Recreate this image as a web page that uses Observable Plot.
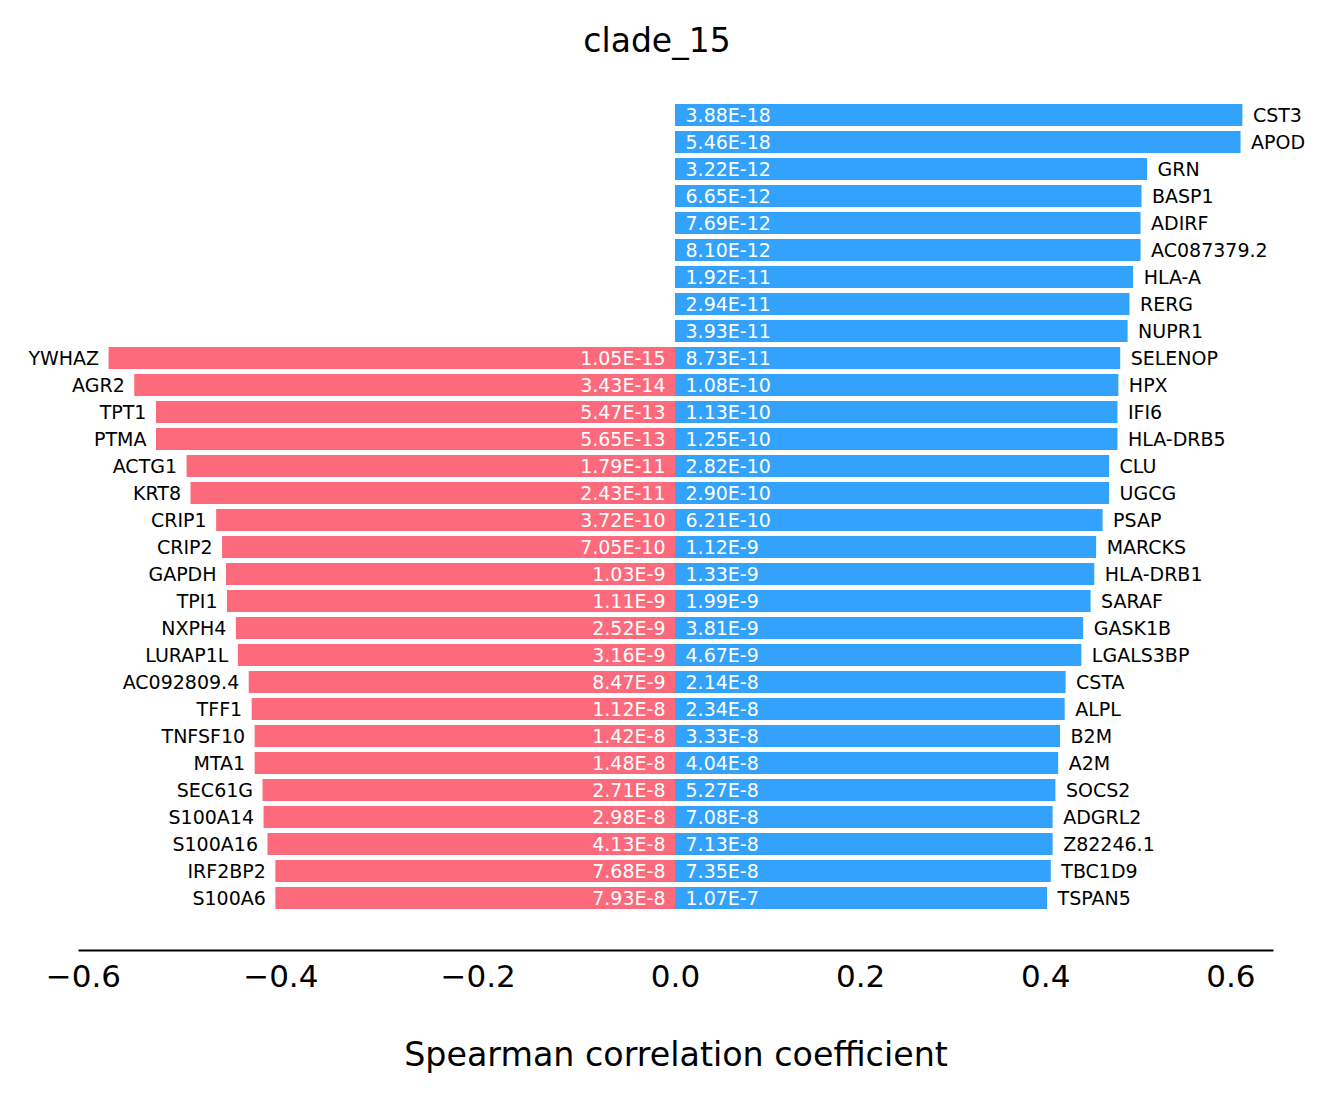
<!DOCTYPE html>
<html>
<head>
<meta charset="utf-8">
<script src="https://cdn.jsdelivr.net/npm/d3@7"></script>
<script src="https://cdn.jsdelivr.net/npm/@observablehq/plot@0.6"></script>
<style>
  html, body { margin: 0; padding: 0; background: #ffffff; }
  #chart svg { display: block; }
</style>
</head>
<body>
<div id="chart"></div>
<script>
// Genes positively correlated with clade_15 (top to bottom)
const posGenes = ["CST3", "APOD", "GRN", "BASP1", "ADIRF", "AC087379.2", "HLA-A", "RERG", "NUPR1",
  "SELENOP", "HPX", "IFI6", "HLA-DRB5", "CLU", "UGCG", "PSAP", "MARCKS", "HLA-DRB1", "SARAF",
  "GASK1B", "LGALS3BP", "CSTA", "ALPL", "B2M", "A2M", "SOCS2", "ADGRL2", "Z82246.1", "TBC1D9", "TSPAN5"];
const posRho = [0.613, 0.611, 0.510, 0.504, 0.503, 0.503, 0.495, 0.491, 0.489,
  0.481, 0.479, 0.478, 0.478, 0.469, 0.469, 0.462, 0.455, 0.453, 0.449,
  0.441, 0.439, 0.422, 0.421, 0.416, 0.414, 0.411, 0.408, 0.408, 0.406, 0.402];
const posP = [3.88e-18, 5.46e-18, 3.22e-12, 6.65e-12, 7.69e-12, 8.10e-12, 1.92e-11, 2.94e-11, 3.93e-11,
  8.73e-11, 1.08e-10, 1.13e-10, 1.25e-10, 2.82e-10, 2.90e-10, 6.21e-10, 1.12e-9, 1.33e-9, 1.99e-9,
  3.81e-9, 4.67e-9, 2.14e-8, 2.34e-8, 3.33e-8, 4.04e-8, 5.27e-8, 7.08e-8, 7.13e-8, 7.35e-8, 1.07e-7];

// Genes negatively correlated with clade_15 (top to bottom)
const negGenes = ["YWHAZ", "AGR2", "TPT1", "PTMA", "ACTG1", "KRT8", "CRIP1", "CRIP2", "GAPDH", "TPI1",
  "NXPH4", "LURAP1L", "AC092809.4", "TFF1", "TNFSF10", "MTA1", "SEC61G", "S100A14", "S100A16", "IRF2BP2", "S100A6"];
const negRho = [-0.574, -0.548, -0.526, -0.526, -0.495, -0.491, -0.465, -0.459, -0.455, -0.454,
  -0.445, -0.443, -0.432, -0.429, -0.426, -0.426, -0.418, -0.417, -0.413, -0.405, -0.405];
const negP = [1.05e-15, 3.43e-14, 5.47e-13, 5.65e-13, 1.79e-11, 2.43e-11, 3.72e-10, 7.05e-10, 1.03e-9, 1.11e-9,
  2.52e-9, 3.16e-9, 8.47e-9, 1.12e-8, 1.42e-8, 1.48e-8, 2.71e-8, 2.98e-8, 4.13e-8, 7.68e-8, 7.93e-8];

const xTicks = [-0.6, -0.4, -0.2, 0.0, 0.2, 0.4, 0.6];
const title = "clade_15";
const xLabel = "Spearman correlation coefficient";

const nRows = posGenes.length;
const negOffset = nRows - negGenes.length; // negative list is aligned to the bottom rows

const pos = posGenes.map((g, i) => ({gene: g, rho: posRho[i], p: posP[i], row: i}));
const neg = negGenes.map((g, i) => ({gene: g, rho: negRho[i], p: negP[i], row: i + negOffset}));

const fmtP = (p) => p.toExponential(2).toUpperCase();
const fmtTick = (d) => (d < 0 ? "\u2212" : "") + Math.abs(d).toFixed(1);

const BLUE = "#33a2fc";
const RED = "#fc6a7b";
const FONT = "DejaVu Sans";

const chart = Plot.plot({
  width: 1329,
  height: 1096,
  marginTop: 70,
  marginBottom: 146,
  marginLeft: 79,
  marginRight: 57,
  style: {fontFamily: FONT, background: "#ffffff", color: "#000000"},
  x: {type: "linear", domain: [-0.604, 0, 0.645], range: [79, 675, 1272]},
  y: {type: "band", domain: d3.range(nRows), range: [101.5, 911.5], paddingInner: 0.2, paddingOuter: 0.1, axis: null},
  marks: [
    Plot.barX(neg, {x1: 0, x2: "rho", y: "row", fill: RED}),
    Plot.barX(pos, {x1: 0, x2: "rho", y: "row", fill: BLUE}),
    // p-values inside the bars
    Plot.text(neg, {x: 0, y: "row", text: (d) => fmtP(d.p), textAnchor: "end", dx: -10, fill: "#ffffff", fontSize: 19}),
    Plot.text(pos, {x: 0, y: "row", text: (d) => fmtP(d.p), textAnchor: "start", dx: 10, fill: "#ffffff", fontSize: 19}),
    // gene names at the bar ends
    Plot.text(neg, {x: "rho", y: "row", text: "gene", textAnchor: "end", dx: -10, fill: "#000000", fontSize: 19}),
    Plot.text(pos, {x: "rho", y: "row", text: "gene", textAnchor: "start", dx: 10, fill: "#000000", fontSize: 19}),
    // bottom spine and tick labels
    Plot.frame({anchor: "bottom", stroke: "#000000", strokeWidth: 2}),
    Plot.axisX({ticks: xTicks, tickSize: 0, tickPadding: 14, tickFormat: fmtTick, fontSize: 31, label: null}),
    // axis title and chart title
    Plot.text([xLabel], {frameAnchor: "bottom", dy: 115, fontSize: 33.3, fill: "#000000"}),
    Plot.text([title], {frameAnchor: "top", dy: -42, dx: -19, fontSize: 33, fill: "#000000"})
  ]
});

document.getElementById("chart").appendChild(chart);
</script>
</body>
</html>
